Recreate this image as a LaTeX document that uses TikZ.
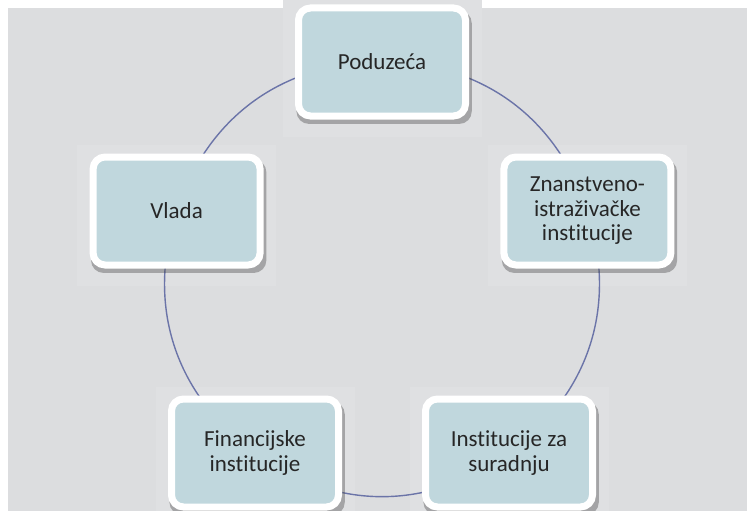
\documentclass[tikz,border=0pt]{standalone}
\usepackage{fontspec}
\setmainfont{Carlito}[Ligatures=NoCommon]
\usetikzlibrary{shadows,backgrounds}
\definecolor{paper}{HTML}{DCDDDF}
\definecolor{patch}{HTML}{DFE0E2}
\definecolor{boxfill}{HTML}{C0D7DD}
\definecolor{ring}{HTML}{6B74A8}

\begin{document}
\begin{tikzpicture}[x=1pt,y=-1pt,
  actor/.style={draw=white,line width=7pt,fill=boxfill,rounded corners=12pt,
    minimum width=167pt,minimum height=108pt,align=center,text=black!85,
    font=\fontsize{23}{24.5}\selectfont,
    drop shadow={shadow xshift=2pt,shadow yshift=-5pt,shadow scale=1.05,
      fill=black!70,opacity=.4}},
  link/.style={draw=ring,line width=1.4pt}]
\useasboundingbox (0,0) rectangle (747,511);
% the five actors
\node[actor] (pod)   at (382,62)    {Poduzeća};
\node[actor] (vlada) at (176.6,211) {Vlada};
\node[actor] (znan)  at (587.4,211) {Znanstveno-\\istraživačke\\institucije};
\node[actor] (fin)   at (255,453)   {Financijske\\institucije};
\node[actor] (inst)  at (509,453)   {Institucije za\\suradnju};
% background and ring
\begin{scope}[on background layer]
\fill[paper] (8,8) rectangle (747,511);
\foreach \n in {pod,vlada,znan,fin,inst}
  \fill[patch] ([shift={(-12.5,-8.5)}]\n.north west) rectangle ([shift={(12.5,17.5)}]\n.south east);
\draw[link] (pod.center) to[bend right=36] (vlada.center)
  to[bend right=36] (fin.center) to[bend right=36] (inst.center)
  to[bend right=36] (znan.center) to[bend right=36] (pod.center);
\end{scope}
\end{tikzpicture}
\end{document}
